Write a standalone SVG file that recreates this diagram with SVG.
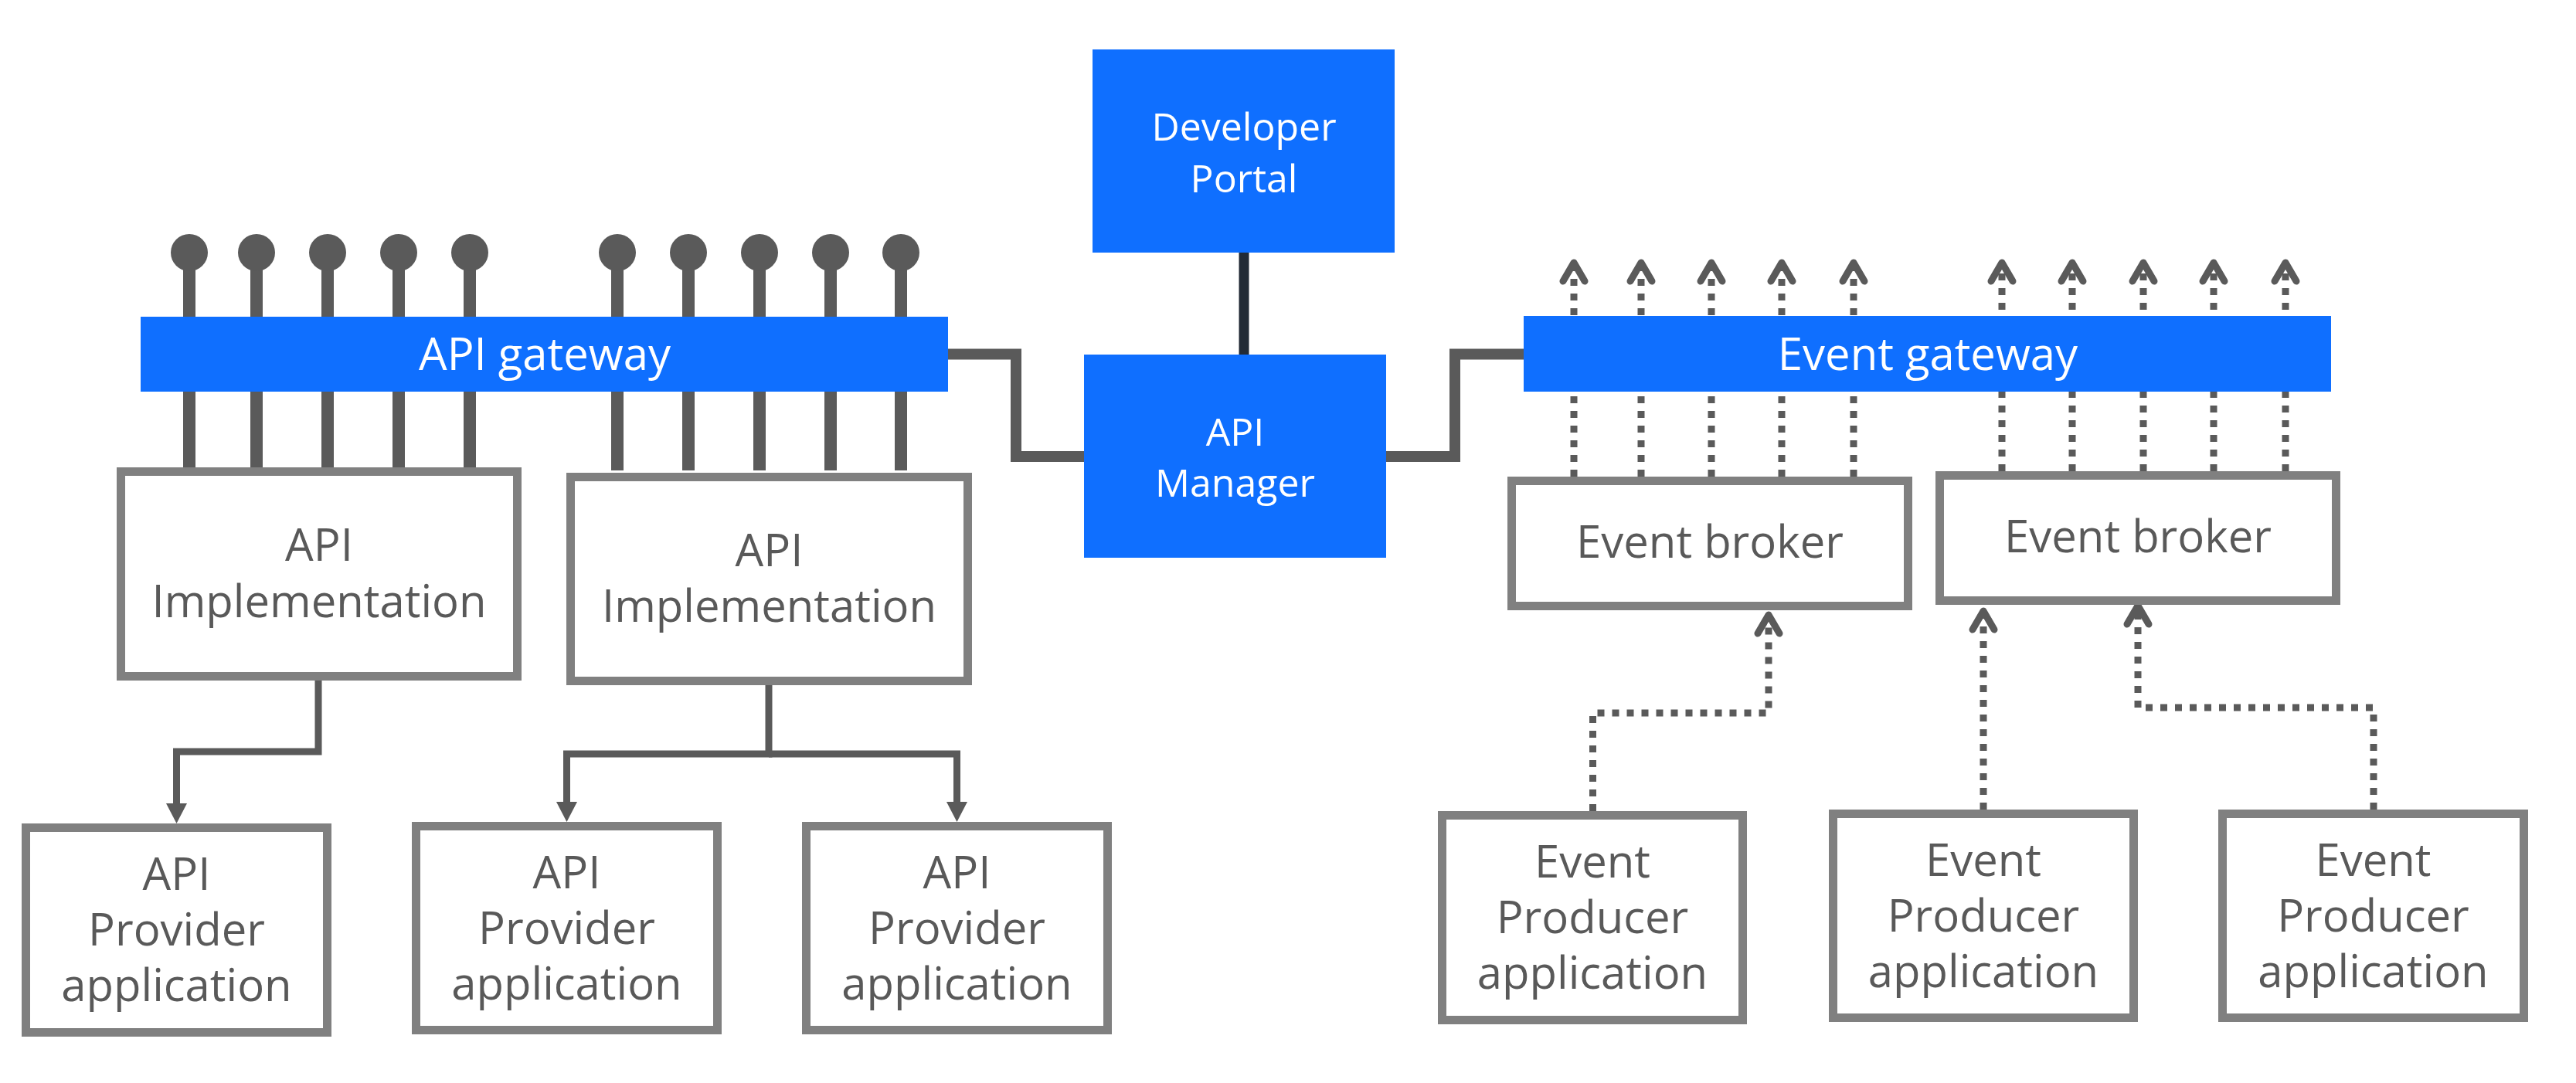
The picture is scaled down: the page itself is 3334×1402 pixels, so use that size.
<svg xmlns="http://www.w3.org/2000/svg" width="3334" height="1402" viewBox="0 0 3334 1402">
<style>
.box{fill:#ffffff;stroke:#808080;stroke-width:11}
.blue{fill:#0f6fff}
.t{font-family:"Open Sans","Liberation Sans",Arial,sans-serif;font-size:58px;fill:#595959;text-anchor:middle}
.tw{font-family:"Open Sans","Liberation Sans",Arial,sans-serif;fill:#ffffff;text-anchor:middle}
.solid{fill:none;stroke:#5a5a5a;stroke-width:9}
.bus{fill:none;stroke:#5a5a5a;stroke-width:14}
.stem{fill:none;stroke:#5a5a5a;stroke-width:16}
.pin{fill:#5a5a5a}
.dot{fill:none;stroke:#5a5a5a;stroke-width:9;stroke-dasharray:9 10}
</style>
<defs>
<marker id="tri" markerUnits="userSpaceOnUse" markerWidth="30" markerHeight="30" refX="0" refY="0" viewBox="-1 -15 30 30" orient="auto" overflow="visible">
<path d="M0,-13.5 L26,0 L0,13.5 Z" fill="#5a5a5a"/>
</marker>
<marker id="chev" markerUnits="userSpaceOnUse" markerWidth="40" markerHeight="40" refX="0" refY="0" viewBox="-30 -20 40 40" orient="auto" overflow="visible">
<path d="M-24,-14 L0,0 L-24,14" fill="none" stroke="#5a5a5a" stroke-width="9" stroke-linecap="round" stroke-linejoin="round"/>
</marker>
</defs>
<rect width="3334" height="1402" fill="#ffffff"/>

<g id="connectors">
<g class="stem">
<path d="M245,327V609M332,327V609M424,327V609M516,327V609M608,327V609"/>
<path d="M799,327V609M891,327V609M983,327V609M1075,327V609M1166,327V609"/>
</g>
<g class="pin">
<circle cx="245" cy="327" r="24"/><circle cx="332" cy="327" r="24"/><circle cx="424" cy="327" r="24"/><circle cx="516" cy="327" r="24"/><circle cx="608" cy="327" r="24"/>
<circle cx="799" cy="327" r="24"/><circle cx="891" cy="327" r="24"/><circle cx="983" cy="327" r="24"/><circle cx="1075" cy="327" r="24"/><circle cx="1166" cy="327" r="24"/>
</g>
<path class="bus" d="M1227,458.5H1315V591H1403"/>
<path class="bus" d="M1794,591H1883V458.5H1972"/>
<path d="M1610,327V459" fill="none" stroke="#222b36" stroke-width="13"/>
<path class="solid" d="M412,881V973H228.5V1040" marker-end="url(#tri)"/>
<path class="solid" d="M995,887V976H733.5V1038" marker-end="url(#tri)"/>
<path class="solid" d="M995,976H1238.5V1038" marker-end="url(#tri)"/>
<path class="dot" d="M2037,617V340" marker-end="url(#chev)"/>
<path class="dot" d="M2124,617V340" marker-end="url(#chev)"/>
<path class="dot" d="M2215,617V340" marker-end="url(#chev)"/>
<path class="dot" d="M2306,617V340" marker-end="url(#chev)"/>
<path class="dot" d="M2399,617V340" marker-end="url(#chev)"/>
<path class="dot" d="M2591,610V340" marker-end="url(#chev)"/>
<path class="dot" d="M2682,610V340" marker-end="url(#chev)"/>
<path class="dot" d="M2774,610V340" marker-end="url(#chev)"/>
<path class="dot" d="M2865,610V340" marker-end="url(#chev)"/>
<path class="dot" d="M2958,610V340" marker-end="url(#chev)"/>
<path class="dot" d="M2061.5,1050V923H2289V796" marker-end="url(#chev)"/>
<path class="dot" d="M2567,1048V791" marker-end="url(#chev)"/>
<path class="dot" d="M3072,1048V916H2767V784" marker-end="url(#chev)"/>
</g>

<g id="api-gateway">
<rect class="blue" x="182" y="410" width="1045" height="97"/>
<text class="tw" x="705" y="478.5" font-size="58">API gateway</text>
</g>
<g id="event-gateway">
<rect class="blue" x="1972" y="409" width="1045" height="98"/>
<text class="tw" x="2495" y="478.5" font-size="58">Event gateway</text>
</g>
<g id="developer-portal">
<rect class="blue" x="1414" y="64" width="391" height="263"/>
<text class="tw" x="1610" y="182" font-size="50">Developer</text>
<text class="tw" x="1610" y="248.5" font-size="50">Portal</text>
</g>
<g id="api-manager">
<rect class="blue" x="1403" y="459" width="391" height="263"/>
<text class="tw" x="1598.5" y="576.5" font-size="50">API</text>
<text class="tw" x="1598.5" y="643" font-size="50">Manager</text>
</g>

<g id="impl1">
<rect class="box" x="156.5" y="610.5" width="513" height="265"/>
<text class="t" x="413" y="726">API</text>
<text class="t" x="413" y="799">Implementation</text>
</g>
<g id="impl2">
<rect class="box" x="738.5" y="617.5" width="514" height="264"/>
<text class="t" x="995.5" y="733">API</text>
<text class="t" x="995.5" y="805">Implementation</text>
</g>

<g id="provider1">
<rect class="box" x="33.5" y="1071.5" width="390" height="265"/>
<text class="t" x="228.5" y="1152">API</text>
<text class="t" x="228.5" y="1224">Provider</text>
<text class="t" x="228.5" y="1296">application</text>
</g>
<g id="provider2">
<rect class="box" x="538.5" y="1069.5" width="390" height="264"/>
<text class="t" x="733.5" y="1150">API</text>
<text class="t" x="733.5" y="1222">Provider</text>
<text class="t" x="733.5" y="1294">application</text>
</g>
<g id="provider3">
<rect class="box" x="1043.5" y="1069.5" width="390" height="264"/>
<text class="t" x="1238.5" y="1150">API</text>
<text class="t" x="1238.5" y="1222">Provider</text>
<text class="t" x="1238.5" y="1294">application</text>
</g>

<g id="broker1">
<rect class="box" x="1956.5" y="622.5" width="513" height="162"/>
<text class="t" x="2213" y="722">Event broker</text>
</g>
<g id="broker2">
<rect class="box" x="2510.5" y="615.5" width="513" height="162"/>
<text class="t" x="2767" y="715">Event broker</text>
</g>

<g id="producer1">
<rect class="box" x="1866.5" y="1055.5" width="389" height="265"/>
<text class="t" x="2061" y="1135.5">Event</text>
<text class="t" x="2061" y="1207.5">Producer</text>
<text class="t" x="2061" y="1279.5">application</text>
</g>
<g id="producer2">
<rect class="box" x="2372.5" y="1053.5" width="389" height="264"/>
<text class="t" x="2567" y="1133.5">Event</text>
<text class="t" x="2567" y="1205.5">Producer</text>
<text class="t" x="2567" y="1277.5">application</text>
</g>
<g id="producer3">
<rect class="box" x="2876.5" y="1053.5" width="390" height="264"/>
<text class="t" x="3071.5" y="1133.5">Event</text>
<text class="t" x="3071.5" y="1205.5">Producer</text>
<text class="t" x="3071.5" y="1277.5">application</text>
</g>
</svg>
